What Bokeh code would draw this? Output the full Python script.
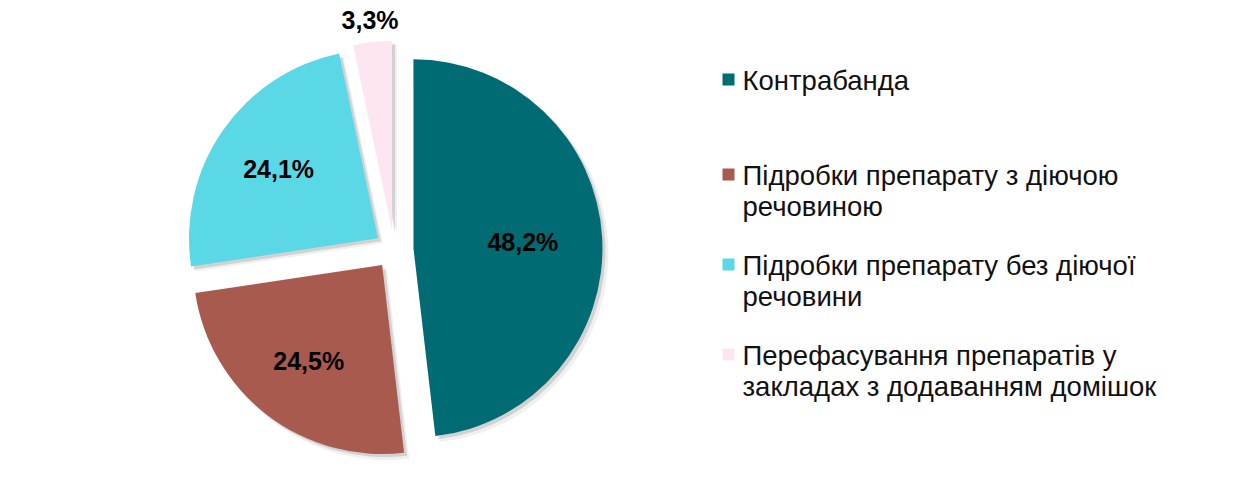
import math
from bokeh.plotting import figure
from bokeh.models import Range1d, ColumnDataSource
from bokeh.core.properties import value
from bokeh.embed import file_html
from bokeh.resources import INLINE

# ---- data ----
categories = [
    "Контрабанда",
    "Підробки препарату з діючою\nречовиною",
    "Підробки препарату без діючої\nречовини",
    "Перефасування препаратів у\nзакладах з додаванням домішок",
]
shares = [48.2, 24.5, 24.1, 3.3]
share_labels = ["48,2%", "24,5%", "24,1%", "3,3%"]
colors = ["#006B73", "#A95A4E", "#5AD8E6", "#FDE6F2"]

# ---- layout / style ----
W, H = 1247, 480
CX, CY = 393.5, H - 249.0     # pie centre (y up)
R = 189.0
EXPLODE = 19.5
FONT = "Liberation Sans"

p = figure(width=W, height=H, x_range=Range1d(0, W), y_range=Range1d(0, H),
           output_backend="svg", toolbar_location=None, min_border=0,
           x_axis_type=None, y_axis_type=None)
p.grid.visible = False
p.outline_line_color = None
p.background_fill_color = "white"
p.border_fill_color = "white"

total = sum(shares)
xs, ys, st, en, lx, ly = [], [], [], [], [], []
cum = 0.0
for i, v in enumerate(shares):
    a0 = 90.0 - cum / total * 360.0
    a1 = 90.0 - (cum + v) / total * 360.0
    cum += v
    mid = math.radians((a0 + a1) / 2.0)
    x = CX + EXPLODE * math.cos(mid)
    y = CY + EXPLODE * math.sin(mid)
    xs.append(x); ys.append(y); st.append(a1); en.append(a0)
    if v / total > 0.4:
        frac = 0.58
    elif v / total > 0.1:
        frac = 0.64
    else:
        frac = 1.12
    lx.append(x + R * frac * math.cos(mid))
    ly.append(y + R * frac * math.sin(mid))

src = ColumnDataSource(dict(x=xs, y=ys, start=st, end=en, color=colors,
                            lx=lx, ly=ly, label=share_labels,
                            sx=[x + 3 for x in xs], sy=[y - 3 for y in ys],
                            sx2=[x + 5 for x in xs], sy2=[y - 5 for y in ys]))

# soft shadow
p.wedge(x="sx2", y="sy2", radius=R + 1, start_angle="start", end_angle="end",
        start_angle_units="deg", end_angle_units="deg", direction="anticlock",
        source=src, fill_color="black", fill_alpha=0.06, line_color=None)
p.wedge(x="sx", y="sy", radius=R, start_angle="start", end_angle="end",
        start_angle_units="deg", end_angle_units="deg", direction="anticlock",
        source=src, fill_color="black", fill_alpha=0.12, line_color=None)
# slices
p.wedge(x="x", y="y", radius=R, start_angle="start", end_angle="end",
        start_angle_units="deg", end_angle_units="deg", direction="anticlock",
        source=src, fill_color="color", line_color=None)
# data labels
p.text(x="lx", y="ly", text="label", source=src, text_align="center",
       text_baseline="middle", text_font=value(FONT), text_font_size="25px",
       text_font_style="bold", text_color="black")

# legend (manual)
first_baselines = [80, 175, 265, 355]
line_gap = 31
sq_x, txt_x = 728, 742
tx, ty, tt = [], [], []
qx, qy = [], []
for cat, b in zip(categories, first_baselines):
    lines = cat.split("\n")
    qx.append(sq_x); qy.append(H - (b - 1))
    for k, line in enumerate(lines):
        tx.append(txt_x); ty.append(H - (b + k * line_gap)); tt.append(line)
p.rect(x=qx, y=qy, width=12, height=12, fill_color=colors, line_color=None)
p.text(x=tx, y=ty, text=tt, text_align="left", text_baseline="alphabetic",
       text_font=value(FONT), text_font_size="27.5px", text_color="#111111")

open("out.html", "w").write(file_html(p, INLINE))
